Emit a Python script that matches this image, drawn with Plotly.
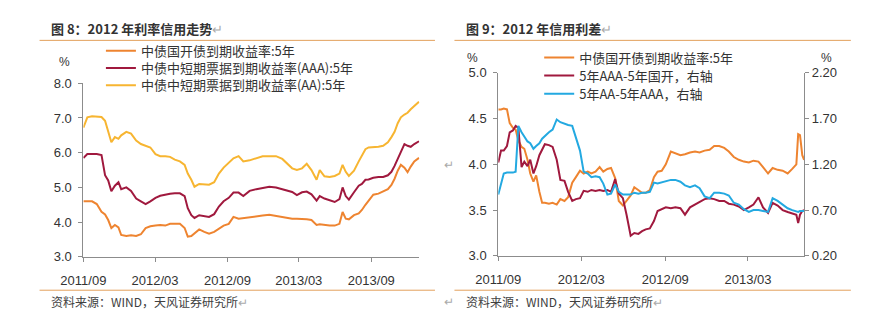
import plotly.graph_objects as go

# ---------------- data: left chart (图8) ----------------
left_dates = ["2011-09-01","2011-09-11","2011-09-23","2011-10-05","2011-10-17","2011-10-26","2011-11-03","2011-11-11","2011-11-20","2011-11-29",
              "2011-12-06","2011-12-19","2011-12-31","2012-01-13","2012-01-25","2012-02-06","2012-02-18","2012-03-02","2012-03-14","2012-03-27",
              "2012-04-08","2012-04-20","2012-05-03","2012-05-15","2012-05-23","2012-06-01","2012-06-09","2012-06-21","2012-07-04","2012-07-16",
              "2012-07-29","2012-08-10","2012-08-22","2012-09-04","2012-09-16","2012-09-29","2012-10-11","2012-10-27","2012-11-13","2012-11-29",
              "2012-12-16","2013-01-02","2013-01-18","2013-01-31","2013-02-12","2013-02-24","2013-03-09","2013-03-21","2013-04-02","2013-04-15",
              "2013-04-23","2013-05-05","2013-05-18","2013-05-31","2013-06-12","2013-06-20","2013-06-28","2013-07-06","2013-07-19","2013-07-31",
              "2013-08-08","2013-08-17","2013-08-25","2013-09-06","2013-09-19","2013-10-01","2013-10-13","2013-10-22","2013-10-30","2013-11-07",
              "2013-11-15","2013-11-24","2013-12-02","2013-12-10","2013-12-19","2013-12-31"]

cdb_5y = [4.6, 4.6, 4.6, 4.52, 4.3, 4.22, 4.06, 3.83, 3.92, 3.85,
          3.63, 3.6, 3.62, 3.6, 3.65, 3.83, 3.88, 3.9, 3.92, 3.9,
          3.95, 3.95, 3.95, 3.83, 3.58, 3.6, 3.67, 3.79, 3.72, 3.67,
          3.72, 3.8, 3.9, 3.95, 4.15, 4.1, 4.12, 4.15, 4.16, 4.19,
          4.21, 4.18, 4.15, 4.12, 4.1, 4.1, 4.1, 4.08, 4.06, 3.92,
          3.94, 3.92, 3.9, 3.9, 3.95, 4.29, 4.1, 4.08, 4.2, 4.25,
          4.35, 4.5, 4.62, 4.79, 4.82, 4.89, 4.95, 5.07, 5.25, 5.48,
          5.65, 5.57, 5.44, 5.6, 5.75, 5.85]

mtn_aaa_5y = [5.85, 5.96, 5.96, 5.96, 5.93, 5.35, 5.2, 4.89, 5.05, 5.15,
              4.95, 5.0, 4.9, 4.68, 4.6, 4.52, 4.6, 4.7, 4.76, 4.8,
              4.82, 4.83, 4.83, 4.75, 4.4, 4.2, 4.12, 4.2, 4.18, 4.15,
              4.23, 4.45, 4.6, 4.7, 4.85, 4.85, 4.75, 4.9, 4.95, 4.99,
              5.02, 5.0, 4.95, 4.92, 4.87, 4.78, 4.86, 4.88, 4.8, 4.62,
              4.75, 4.68, 4.62, 4.58, 4.66, 5.0, 4.75, 4.65, 4.86, 5.05,
              5.1, 5.22, 5.23, 5.28, 5.3, 5.3, 5.35, 5.45, 5.62, 5.82,
              6.05, 6.25, 6.2, 6.17, 6.25, 6.33]

mtn_aa_5y = [6.72, 7.02, 7.05, 7.05, 7.03, 6.92, 6.6, 6.3, 6.45, 6.4,
             6.5, 6.6, 6.55, 6.35, 6.25, 6.2, 6.15, 5.96, 5.9, 5.9,
             5.88, 5.8, 5.75, 5.65, 5.4, 5.22, 5.02, 5.1, 5.1, 5.08,
             5.15, 5.4, 5.57, 5.7, 5.84, 5.9, 5.75, 5.78, 5.85, 5.9,
             5.9, 5.9, 5.82, 5.68, 5.55, 5.5, 5.55, 5.68, 5.5, 5.22,
             5.5, 5.32, 5.3, 5.33, 5.4, 5.65, 5.45, 5.33, 5.48, 5.75,
             5.9, 6.1, 6.15, 6.15, 6.17, 6.2, 6.3, 6.45, 6.6, 6.85,
             7.02, 7.1, 7.15, 7.25, 7.35, 7.47]

# ---------------- data: right chart (图9) ----------------
right_dates = ["2011-09-01","2011-09-07","2011-09-13","2011-09-20","2011-09-26","2011-10-03","2011-10-09","2011-10-15","2011-10-22","2011-10-28",
               "2011-11-04","2011-11-10","2011-11-17","2011-11-23","2011-11-30","2011-12-06","2011-12-12","2011-12-21","2011-12-29","2012-01-07",
               "2012-01-15","2012-01-24","2012-02-01","2012-02-10","2012-02-18","2012-02-27","2012-03-06","2012-03-15","2012-03-23","2012-04-01",
               "2012-04-10","2012-04-18","2012-04-27","2012-05-05","2012-05-14","2012-05-22","2012-05-31","2012-06-08","2012-06-17","2012-06-25",
               "2012-07-04","2012-07-12","2012-07-20","2012-07-29","2012-08-07","2012-08-15","2012-08-24","2012-09-02","2012-09-13","2012-09-23",
               "2012-10-04","2012-10-14","2012-10-25","2012-11-05","2012-11-15","2012-11-26","2012-12-07","2012-12-17","2012-12-28","2013-01-08",
               "2013-01-18","2013-01-29","2013-02-09","2013-02-20","2013-03-03","2013-03-13","2013-03-24","2013-04-03","2013-04-14","2013-04-24",
               "2013-05-05","2013-05-16","2013-05-27","2013-06-06","2013-06-15","2013-06-19","2013-06-23","2013-06-28","2013-07-02"]

cdb_5y_r = [4.6, 4.6, 4.61, 4.6, 4.45, 4.4, 4.38, 4.26, 4.19, 4.17,
            4.05, 3.9, 3.81, 3.88, 3.7, 3.58, 3.58, 3.57, 3.58, 3.56,
            3.62, 3.6, 3.64, 3.8, 3.86, 3.93, 3.9, 3.92, 3.9, 3.92,
            3.97, 3.92, 3.95, 3.96, 3.85, 3.6, 3.55, 3.6, 3.66, 3.75,
            3.72, 3.69, 3.69, 3.72, 3.86, 3.92, 3.93, 4.0, 4.14, 4.12,
            4.1, 4.11, 4.13, 4.14, 4.13, 4.15, 4.16, 4.2, 4.2, 4.18,
            4.14, 4.08, 4.05, 4.03, 4.02, 4.04, 4.03, 3.97, 3.9, 3.96,
            3.94, 3.93, 3.9, 3.95, 4.0, 4.33, 4.32, 4.1, 4.05]

spread_aaa_cdb = [1.22, 1.35, 1.35, 1.4, 1.55, 1.57, 1.62, 1.6, 1.17, 1.23,
                  1.18, 1.25, 1.1, 1.18, 1.3, 1.37, 1.42, 1.41, 1.39, 1.25,
                  1.03, 1.02, 0.9, 0.8, 0.82, 0.83, 0.91, 0.9, 0.92, 0.91,
                  0.92, 0.91, 0.92, 0.9, 1.04, 0.88, 0.83, 0.65, 0.42, 0.45,
                  0.44, 0.47, 0.49, 0.5, 0.58, 0.69, 0.71, 0.73, 0.72, 0.73,
                  0.72, 0.65, 0.73, 0.76, 0.79, 0.82, 0.83, 0.82, 0.8, 0.8,
                  0.77, 0.76, 0.74, 0.7, 0.73, 0.76, 0.84, 0.73, 0.67, 0.78,
                  0.75, 0.7, 0.68, 0.66, 0.65, 0.56, 0.65, 0.69, 0.7]

spread_aa_aaa = [0.87, 1.0, 1.1, 1.11, 1.11, 1.11, 1.12, 1.62, 1.55, 1.5,
                 1.45, 1.43, 1.37, 1.4, 1.43, 1.48, 1.51, 1.55, 1.58, 1.69,
                 1.66, 1.64, 1.63, 1.62, 1.5, 1.35, 1.12, 1.1, 1.06, 1.07,
                 1.06, 0.99, 0.87, 0.88, 0.98, 0.9, 0.87, 0.87, 0.87, 0.89,
                 0.88, 0.89, 0.89, 0.9, 1.0, 0.99, 1.0, 1.01, 1.03, 1.03,
                 1.01, 0.97, 0.95, 0.97, 0.94, 0.85, 0.83, 0.89, 0.89, 0.88,
                 0.86, 0.78, 0.76, 0.71, 0.68, 0.7, 0.7, 0.69, 0.68, 0.83,
                 0.8, 0.76, 0.72, 0.7, 0.69, 0.68, 0.69, 0.69, 0.69]

left_names = ["中债国开债到期收益率:5年", "中债中短期票据到期收益率(AAA):5年", "中债中短期票据到期收益率(AA):5年"]
right_names = ["中债国开债到期收益率:5年", "5年AAA-5年国开，右轴", "5年AA-5年AAA，右轴"]

# ---------------- styling ----------------
W, H = 883, 323
ORANGE = "#EE8430"
MAROON = "#A0193E"
YELLOW = "#F7B531"
BLUE = "#23A9E1"
AXIS = "#8C8C8C"
TXT = "#333333"
RULE = "#E3A05C"
CJK = "Noto Sans CJK SC"
NUM = "Liberation Sans"


def px(x):
    return x / W


def py(y):
    return 1 - y / H


fig = go.Figure()

left_specs = [(cdb_5y, ORANGE, "legend"), (mtn_aaa_5y, MAROON, "legend2"), (mtn_aa_5y, YELLOW, "legend3")]
for (vals, col, lg), name in zip(left_specs, left_names):
    fig.add_trace(go.Scatter(x=left_dates, y=vals, name=name, mode="lines",
                             line=dict(color=col, width=2), xaxis="x", yaxis="y", legend=lg))

right_specs = [(cdb_5y_r, ORANGE, "y2", "legend4"), (spread_aaa_cdb, MAROON, "y3", "legend5"),
               (spread_aa_aaa, BLUE, "y3", "legend6")]
for (vals, col, ya, lg), name in zip(right_specs, right_names):
    fig.add_trace(go.Scatter(x=right_dates, y=vals, name=name, mode="lines",
                             line=dict(color=col, width=2), xaxis="x2", yaxis=ya, legend=lg))

common_x = dict(type="date", tickformat="%Y/%m", dtick="M6", tick0="2011-09-01",
                ticks="outside", ticklen=4, tickcolor=AXIS, showline=True, linecolor=AXIS,
                linewidth=1, showgrid=False, zeroline=False,
                tickfont=dict(family=NUM, size=13, color=TXT), ticklabelstandoff=8)
common_y = dict(ticks="outside", ticklen=4, tickcolor=AXIS, showline=True, linecolor=AXIS,
                linewidth=1, showgrid=False, zeroline=False,
                tickfont=dict(family=NUM, size=13, color=TXT))


def lgd(x, y):
    return dict(x=px(x), y=py(y), xanchor="left", yanchor="middle", bgcolor="rgba(0,0,0,0)",
                font=dict(family=CJK, size=13, color=TXT), itemwidth=30)


fig.update_layout(
    width=W, height=H, margin=dict(l=0, r=0, t=0, b=0),
    paper_bgcolor="white", plot_bgcolor="white", hovermode=False,
    xaxis=dict(common_x, domain=[px(62), px(407)], range=["2011-09-01", "2014-01-01"], anchor="y"),
    yaxis=dict(common_y, domain=[py(262), py(80)], range=[3, 8], dtick=1, tickformat=".1f",
               anchor="x", ticklabelstandoff=4),
    xaxis2=dict(common_x, domain=[px(488), px(802)], range=["2011-09-01", "2013-07-02"], anchor="y2"),
    yaxis2=dict(common_y, domain=[py(261), py(69)], range=[3, 5], dtick=0.5, tickformat=".1f",
                anchor="x2", ticklabelstandoff=4),
    yaxis3=dict(common_y, overlaying="y2", side="right", range=[0.2, 2.2], dtick=0.5, tick0=0.2,
                tickformat=".2f", anchor="x2", ticklabelstandoff=0),
    legend=lgd(80, 46), legend2=lgd(80, 64), legend3=lgd(80, 82),
    legend4=lgd(530, 53), legend5=lgd(530, 72), legend6=lgd(530, 91),
    showlegend=True,
)

# header / footer rules
for x0, x1 in [(17, 423), (443, 850)]:
    for yy in (35, 297):
        fig.add_shape(type="line", xref="paper", yref="paper", x0=px(x0), x1=px(x1), y0=py(yy), y1=py(yy),
                      line=dict(color=RULE, width=1))

annots = [
    dict(text="<b>图 8：2012 年利率信用走势</b><span style='color:#aaaaaa'>↵</span>", x=27, y=23, size=13, color=TXT),
    dict(text="<b>图 9：2012 年信用利差</b><span style='color:#aaaaaa'>↵</span>", x=453, y=23, size=13, color=TXT),
    dict(text="资料来源：WIND，天风证券研究所<span style='color:#aaaaaa'>↵</span>", x=27, y=309, size=12, color="#404040"),
    dict(text="资料来源：WIND，天风证券研究所<span style='color:#aaaaaa'>↵</span>", x=453, y=309, size=12, color="#404040"),
]
for a in annots:
    fig.add_annotation(text=a["text"], x=px(a["x"]), y=py(a["y"]), xref="paper", yref="paper",
                       xanchor="left", yanchor="middle", showarrow=False,
                       font=dict(family=CJK, size=a["size"], color=a["color"]))

for txt, x, y, col, sz in [("%", 43, 58, TXT, 12), ("%", 462, 54, TXT, 12), ("%", 825, 54, TXT, 12),
                           ("↵", 437, 166, "#aaaaaa", 12), ("↵", 437, 309, "#aaaaaa", 12)]:
    fig.add_annotation(text=txt, x=px(x), y=py(y), xref="paper", yref="paper", xanchor="center",
                       yanchor="middle", showarrow=False, font=dict(family=NUM, size=sz, color=col))

fig.write_html("out.html")
